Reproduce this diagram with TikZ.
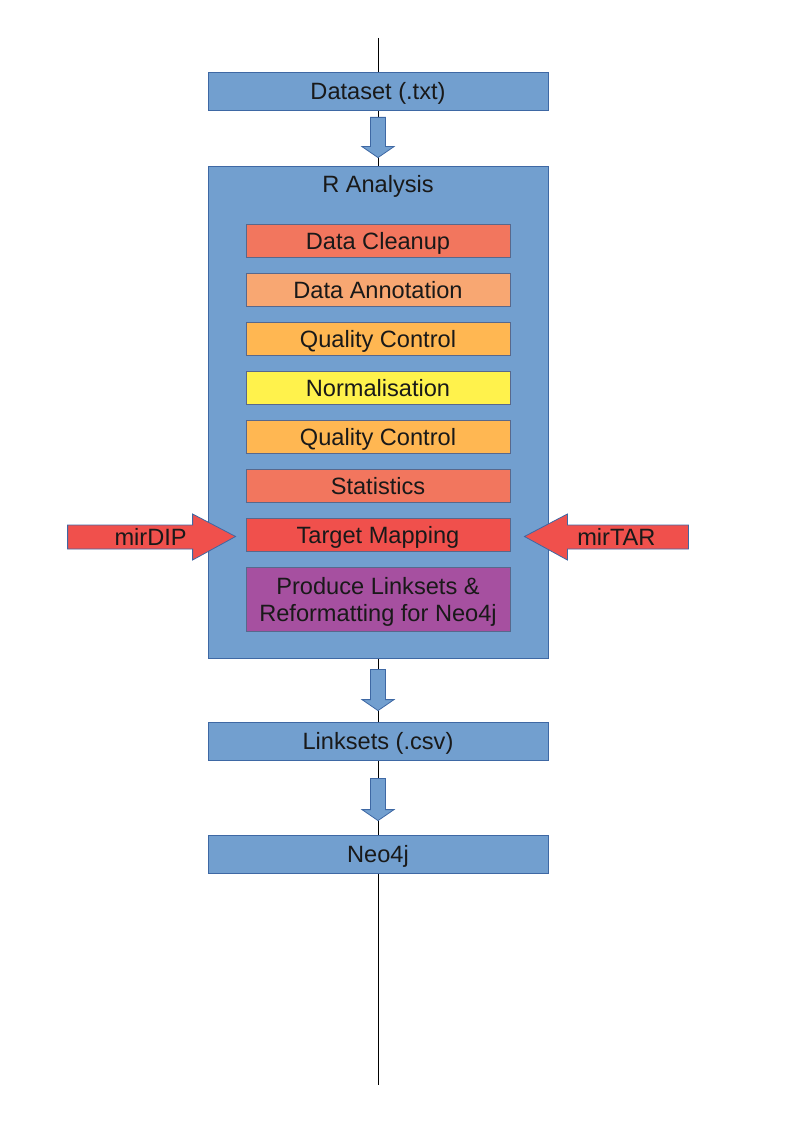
\documentclass[tikz,border=0pt]{standalone}
\usepackage{fontspec}
\setmainfont{Liberation Sans}
\usetikzlibrary{calc}
\definecolor{boxblue}{RGB}{114,159,207}
\definecolor{blueedge}{RGB}{62,104,164}
\definecolor{stepedge}{RGB}{88,104,140}
\definecolor{cleanupred}{RGB}{242,118,94}
\definecolor{annotorange}{RGB}{248,167,114}
\definecolor{qcorange}{RGB}{255,183,82}
\definecolor{normyellow}{RGB}{255,242,76}
\definecolor{mapred}{RGB}{240,80,76}
\definecolor{linkpurple}{RGB}{166,80,160}
\begin{document}
\begin{tikzpicture}
[x=1pt,y=-1pt,
  labelfont/.style={font=\fontsize{23.6}{27}\selectfont,text=black!90,
    text height=19,text depth=2},%
  bluebox/.style={shape=rectangle,draw=blueedge,fill=boxblue,line width=0.8pt,
    minimum width=340,minimum height=38,inner sep=0pt,labelfont},%
  stepbox/.style={shape=rectangle,draw=stepedge,line width=0.8pt,
    minimum width=264,minimum height=33,inner sep=0pt,labelfont},%
  blockarrow/.style={draw=blueedge,fill=boxblue,line width=0.8pt,line join=miter},%
  sidearrow/.style={draw=blueedge,fill=mapred,line width=0.8pt,line join=miter}]
\useasboundingbox (0,0) rectangle (794,1123);
%% backbone line
\coordinate (linetop) at (378,38);
\coordinate (linebot) at (378,1085);
\draw[line width=0.8pt] (linetop) -- (linebot);
%% main boxes
\node (dataset) at (378,91) [bluebox] {Dataset (.txt)};
\node (ranalysis) at (378,412) [bluebox,minimum height=492] {};
\node (rtitle) at (378,184) [labelfont] {R Analysis};
\node (linksets) at (378,741) [bluebox] {Linksets (.csv)};
\node (neo4j) at (378,854) [bluebox] {Neo4j};
%% analysis steps
\foreach \stepname/\y/\col/\steptext in {
  cleanup/240.5/cleanupred/Data Cleanup, annotation/289.5/annotorange/Data Annotation,
  qcone/338.5/qcorange/Quality Control, norm/387.5/normyellow/Normalisation,
  qctwo/436.5/qcorange/Quality Control, stats/485.5/cleanupred/Statistics,
  mapping/534.5/mapred/Target Mapping} {
  \node (\stepname) at (378,\y) [stepbox,fill=\col] {\steptext};
}
\node (produce) at (378,599.5) [stepbox,fill=linkpurple,minimum height=64,align=center,
  text height=,text depth=0pt] {Produce Linksets \&\\Reformatting for Neo4j};
%% block arrows between boxes
\foreach \upper/\lower/\gapa/\gapb in {
  dataset/ranalysis/7/8, ranalysis/linksets/11/11, linksets/neo4j/18/14} {
  \draw[blockarrow] ($(\upper.south)+(-7.5,\gapa)$) -- ($(\lower.north)+(-7.5,-\gapb-11)$)
    -- ++(-8.5,0) -- ($(\lower.north)+(0,-\gapb)$) -- ++(16,-11) -- ++(-8.5,0)
    -- ($(\upper.south)+(7.5,\gapa)$) -- cycle;
}
%% inputs to target mapping
\draw[sidearrow] ($(mapping.west)+(-10,2)$) coordinate (diptip)
  -- ++(-43,-22.5) -- ++(0,11) -- ++(-125,0) -- ++(0,24) -- ++(125,0) -- ++(0,11) -- cycle;
\node (mirdip) at ($(diptip)+(-85,0)$) [labelfont] {mirDIP};
\draw[sidearrow] ($(mapping.east)+(14,2)$) coordinate (tartip)
  -- ++(43,-22.5) -- ++(0,11) -- ++(121,0) -- ++(0,24) -- ++(-121,0) -- ++(0,11) -- cycle;
\node (mirtar) at ($(tartip)+(92,0)$) [labelfont] {mirTAR};
\end{tikzpicture}
\end{document}
